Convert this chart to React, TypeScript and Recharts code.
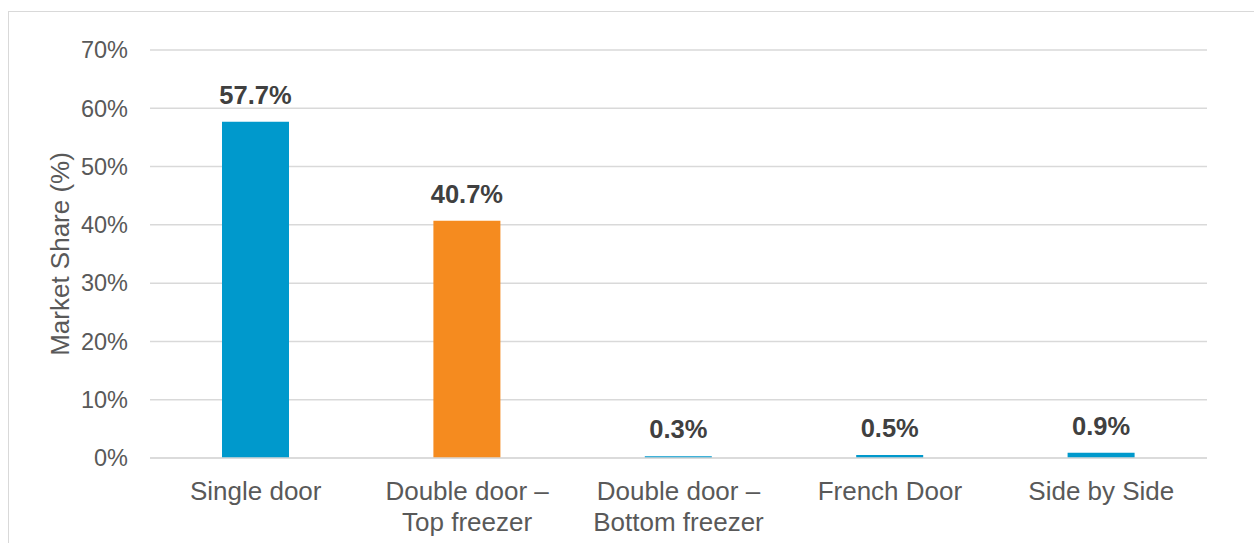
import {
  BarChart,
  Bar,
  XAxis,
  YAxis,
  CartesianGrid,
  Cell,
  LabelList,
} from "recharts";

const categories = [
  "Single door",
  "Double door –\nTop freezer",
  "Double door –\nBottom freezer",
  "French Door",
  "Side by Side",
];
const shares = [57.7, 40.7, 0.3, 0.5, 0.9];
const barColors = ["#0099cc", "#f58b1f", "#0099cc", "#0099cc", "#0099cc"];
const yTicks = [0, 10, 20, 30, 40, 50, 60, 70];

const data = categories.map((name, i) => ({ name, value: shares[i] }));

const FONT = "'Liberation Sans', Arial, sans-serif";

function CategoryTick({ x, y, payload }: any) {
  const lines = String(payload.value).split("\n");
  return (
    <text
      x={x}
      y={y}
      textAnchor="middle"
      fill="#595959"
      fontSize={26}
      fontFamily={FONT}
    >
      {lines.map((line, i) => (
        <tspan key={i} x={x} y={y + 33.5 + i * 31}>
          {line}
        </tspan>
      ))}
    </text>
  );
}

export default function App() {
  return (
    <div
      style={{
        position: "absolute",
        left: 0,
        top: 0,
        width: 1254,
        height: 543,
        background: "#fff",
        overflow: "hidden",
      }}
    >
      <div
        style={{
          position: "absolute",
          left: 8,
          top: 11,
          width: 1300,
          height: 600,
          borderLeft: "1.5px solid #d9d9d9",
          borderTop: "1.5px solid #d9d9d9",
        }}
      />
      <div style={{ position: "absolute", left: 0, top: 0 }}>
        <BarChart
          width={1254}
          height={543}
          data={data}
          margin={{ top: 50, right: 47, bottom: 0, left: 50 }}
        >
          <CartesianGrid vertical={false} stroke="#d9d9d9" strokeWidth={1.5} />
          <XAxis
            dataKey="name"
            height={85}
            interval={0}
            tickLine={false}
            axisLine={{ stroke: "#d9d9d9", strokeWidth: 1.5 }}
            tick={<CategoryTick />}
          />
          <YAxis
            width={100}
            domain={[0, 70]}
            ticks={yTicks}
            tickFormatter={(v) => `${v}%`}
            tickLine={false}
            axisLine={false}
            tickMargin={16}
            tick={{ fill: "#595959", fontSize: 23.5, fontFamily: FONT }}
            label={{
              content: () => (
                <text
                  transform="translate(69,254) rotate(-90)"
                  textAnchor="middle"
                  fill="#595959"
                  fontSize={26}
                  fontFamily={FONT}
                >
                  Market Share (%)
                </text>
              ),
            }}
          />
          <Bar dataKey="value" barSize={67} isAnimationActive={false}>
            {data.map((_, i) => (
              <Cell key={i} fill={barColors[i]} />
            ))}
            <LabelList
              dataKey="value"
              position="top"
              offset={18}
              formatter={(v: any) => `${Number(v).toFixed(1)}%`}
              fill="#404040"
              fontSize={25.5}
              fontWeight="bold"
              fontFamily={FONT}
            />
          </Bar>
        </BarChart>
      </div>
    </div>
  );
}
